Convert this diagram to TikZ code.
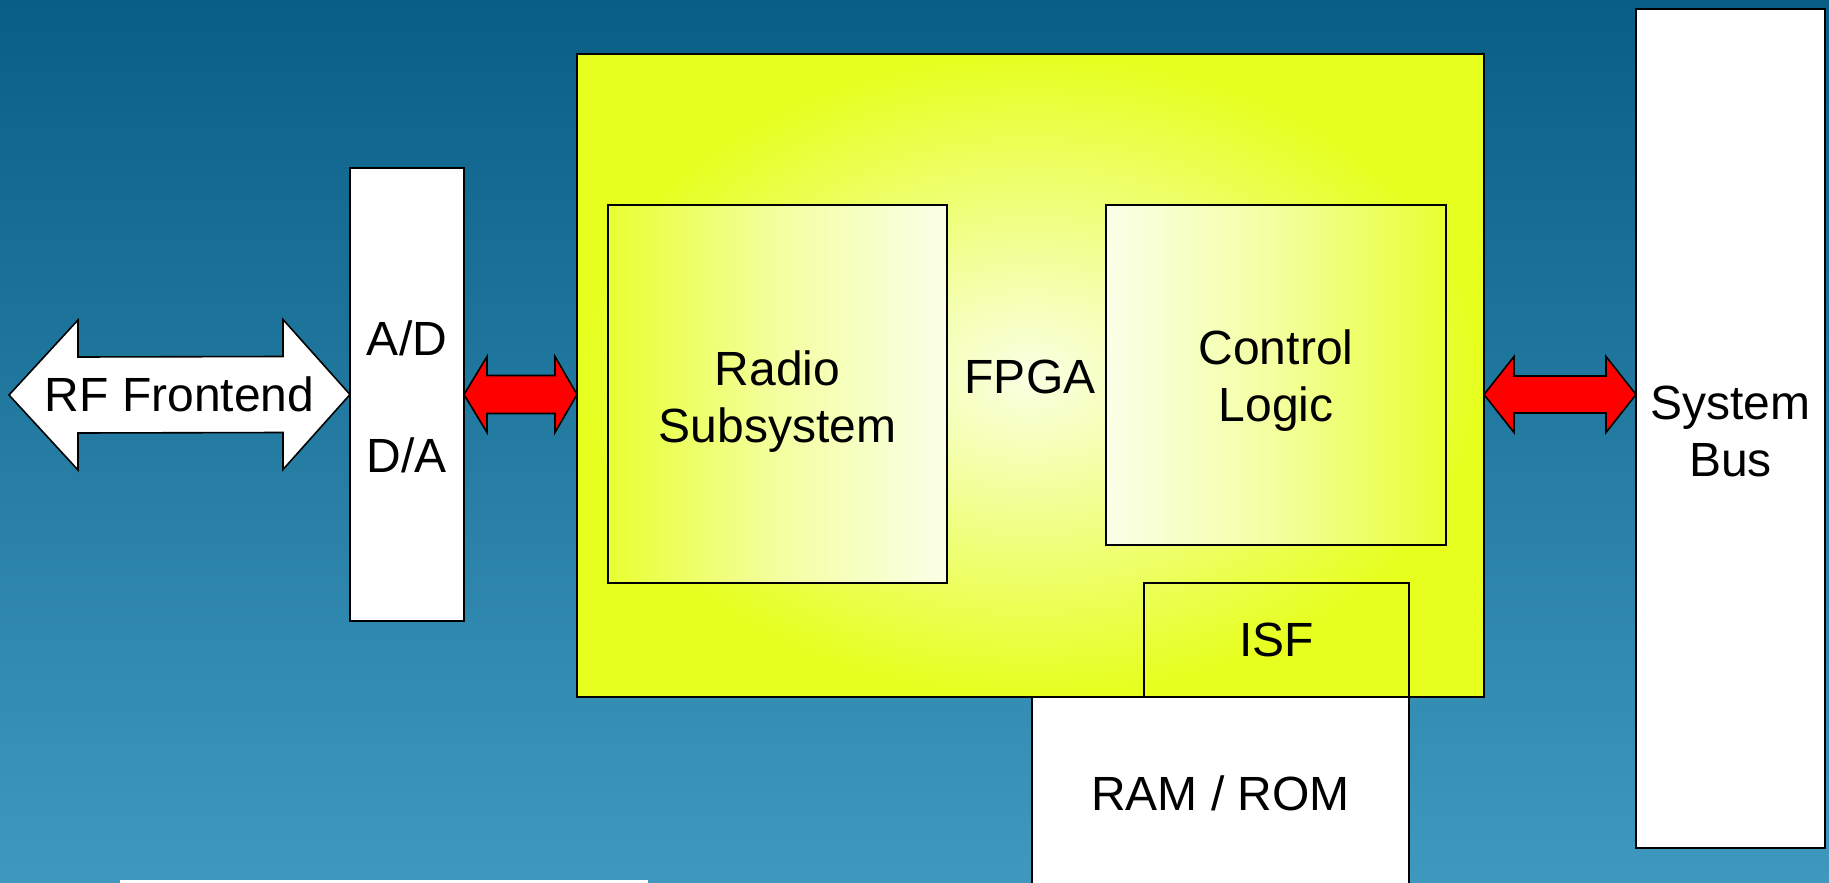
\documentclass[tikz,border=0pt]{standalone}
\usepackage{fontspec}
\setmainfont{Liberation Sans}
\usetikzlibrary{calc}
\definecolor{bgtop}{RGB}{9,94,134}
\definecolor{bgbot}{RGB}{63,153,191}
\definecolor{fpgaout}{RGB}{230,255,30}
\definecolor{fpgain}{RGB}{250,255,228}
\definecolor{boxyel}{RGB}{232,255,50}
\definecolor{boxwht}{RGB}{250,255,232}
\begin{document}
\begin{tikzpicture}[x=1pt,y=-1pt,
  every node/.style={font=\fontsize{48}{57}\selectfont, inner sep=0pt, outer sep=0pt, align=center},
  wbox/.style={draw=black, line width=1.6pt, fill=white},
  obox/.style={draw=black, line width=1.6pt},
  redarr/.style={draw=black, line width=1.6pt, fill=red, line join=miter},
  wharr/.style={draw=black, line width=1.6pt, fill=white, line join=miter}]
\useasboundingbox (0,0) rectangle (1829,883);
\clip (0,0) rectangle (1829,883);
\shade[top color=bgtop, bottom color=bgbot] (0,0) rectangle (1829,883);
% FPGA
\node[obox, shade, shading=radial, inner color=fpgain, outer color=fpgaout,
  minimum width=907pt, minimum height=643pt, anchor=north west] (fpga) at (577,54) {};
\node (fpgalabel) at (1030,377) {FPGA};
\node[obox, shade, left color=boxyel, right color=boxwht, middle color=boxwht!60!boxyel,
  minimum width=339pt, minimum height=378pt, anchor=north west] (radio) at (608,205) {};
\node (radiotext) at ($(radio.center)+(0,8)$) {Radio\\Subsystem};
\node[obox, shade, left color=boxwht, right color=boxyel, middle color=boxwht!60!boxyel,
  minimum width=340pt, minimum height=340pt, anchor=north west] (ctrl) at (1106,205) {};
\node (ctrltext) at ($(ctrl.center)+(0,6)$) {Control\\Logic};
\node[obox, minimum width=265pt, minimum height=114pt, anchor=north west] (isf) at (1144,583) {};
\node (isftext) at (isf.center) {ISF};
\node[wbox, minimum width=377pt, minimum height=193pt, anchor=north west] (ram) at (1032,697) {};
\node (ramtext) at (ram.center) {RAM / ROM};
% A/D
\node[wbox, minimum width=114pt, minimum height=453pt, anchor=north west] (ad) at (350,168) {};
\node (adtext) at (407,338) {A/D};
\node (datext) at (407,455) {D/A};
% System bus
\node[wbox, line width=2.6pt, minimum width=189pt, minimum height=839pt, anchor=north west] (bus) at (1636,9) {};
\node (bustext) at ($(bus.center)+(0,3)$) {System\\Bus};
% bottom-left box
\node[fill=white, minimum width=528pt, minimum height=20pt, anchor=north west] (note) at (120,880) {};
% RF arrow
\coordinate (rfl) at (9,395);
\draw[wharr] (rfl) -- ++(69,-75) -- ++(0,37) -- ($(ad.west)+(-67,-38)$) -- ++(0,-37) -- (ad.west)
  -- ++(-67,75) -- ++(0,-37) -- ($(rfl)+(69,38)$) -- ++(0,37) -- cycle;
\node (rf) at ($(rfl)!0.5!(ad.west)$) {RF Frontend};
% red arrow A/D <-> FPGA
\draw[redarr] (ad.east) -- ++(23,-38) -- ++(0,19) -- ($(fpga.west|-ad.east)+(-22,-19)$) -- ++(0,-19)
  -- (fpga.west|-ad.east) -- ++(-22,38) -- ++(0,-19) -- ($(ad.east)+(23,19)$) -- ++(0,19) -- cycle;
% red arrow FPGA <-> bus
\draw[redarr] (fpga.east|-ad.east) -- ++(30,-38) -- ++(0,19.5) -- ($(bus.west|-ad.east)+(-30,-18.5)$) -- ++(0,-19.5)
  -- (bus.west|-ad.east) -- ++(-30,38) -- ++(0,-19.5) -- ($(fpga.east|-ad.east)+(30,18.5)$) -- ++(0,19.5) -- cycle;
\end{tikzpicture}
\end{document}
